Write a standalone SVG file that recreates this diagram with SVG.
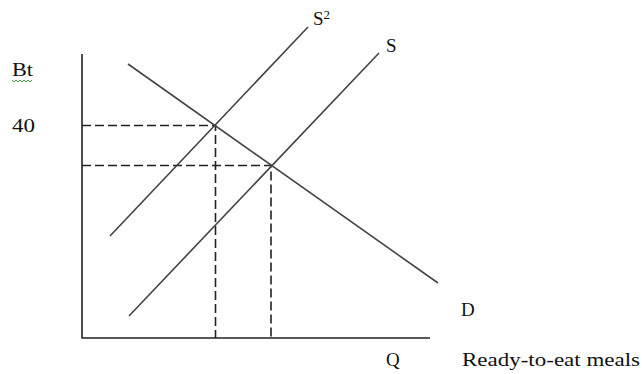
<svg xmlns="http://www.w3.org/2000/svg" width="642" height="374" viewBox="0 0 642 374">
<style>
.t{font-family:"Liberation Serif","Times New Roman",serif;font-size:19px;fill:#111}
.ax{stroke:#222;stroke-width:1.6;fill:none}
.ln{stroke:#444;stroke-width:1.6;fill:none}
.dash{stroke:#222;stroke-width:1.6;fill:none;stroke-dasharray:9 4}
</style>
<rect width="642" height="374" fill="#fff"/>
<g id="connectors">
<path class="dash" d="M82 125.5H215.5V338"/>
<path class="dash" d="M82 165.5H271V338"/>
<line id="curve-D" class="ln" x1="128" y1="64" x2="438" y2="283"/>
<line id="curve-S2" class="ln" x1="110" y1="236" x2="308" y2="27"/>
<line id="curve-S" class="ln" x1="129" y1="316" x2="379" y2="53"/>
</g>
<g id="axes">
<path class="ax" d="M82 54V338H430"/>
</g>
<g id="label-Bt">
<text class="t" x="12" y="76" textLength="21" lengthAdjust="spacingAndGlyphs">Bt</text>
<path d="M12 80l2 2 2-2 2 2 2-2 2 2 2-2 2 2 2-2 2 2 2-2" stroke="#3a9a3a" stroke-width="0.9" fill="none"/>
</g>
<g id="label-40"><text class="t" x="12" y="132" textLength="23" lengthAdjust="spacingAndGlyphs">40</text></g>
<g id="label-S2"><text class="t" x="313" y="25">S<tspan font-size="13" dy="-6">2</tspan></text></g>
<g id="label-S"><text class="t" x="386" y="52">S</text></g>
<g id="label-D"><text class="t" x="461" y="316">D</text></g>
<g id="label-Q"><text class="t" x="386" y="366">Q</text></g>
<g id="label-x"><text class="t" x="462" y="366" textLength="178" lengthAdjust="spacingAndGlyphs">Ready-to-eat meals</text></g>
</svg>
